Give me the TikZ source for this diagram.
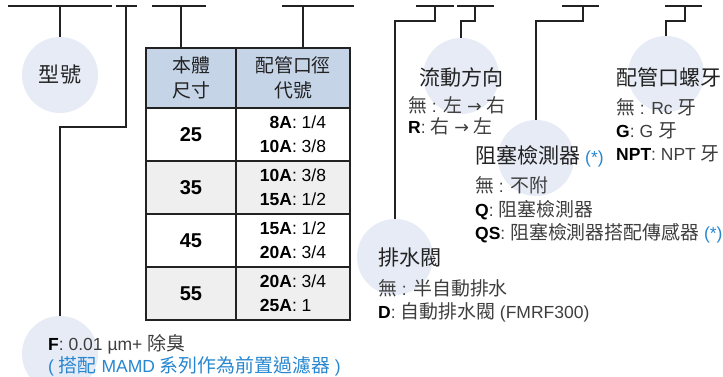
\documentclass[tikz,border=0pt]{standalone}
\usepackage{fontspec}
\setmainfont{Liberation Sans}
\newfontfamily\zh[Scale=1.08]{Noto Sans CJK TC}
\newfontfamily\symf{DejaVu Sans}
\usetikzlibrary{positioning, calc}
\definecolor{mydark}{RGB}{34,34,34}
\definecolor{mygray}{RGB}{62,62,62}
\definecolor{myblue}{RGB}{38,134,208}
\definecolor{hdrblue}{RGB}{198,212,232}
\definecolor{rowgray}{RGB}{239,239,239}
\definecolor{bubblefill}{RGB}{230,235,245}
\tikzset{
  wire/.style={line width=1.3pt, color=mydark},
  bubble/.style={circle, fill=bubblefill, minimum size=76pt, inner sep=0pt},
  title/.style={font=\fontsize{19.5}{24}\selectfont\zh, text=mydark, inner sep=0pt},
  opts/.style={text=mygray, align=left, inner sep=0pt, anchor=west},
  hdrcell/.style={rectangle, draw=mydark, fill=hdrblue, line width=1.3pt,
    minimum height=60pt, align=center, text=mydark,
    font=\fontsize{17.5}{25}\selectfont\zh},
  sizecell/.style={rectangle, draw=mydark, line width=1.3pt, minimum width=90pt,
    minimum height=53pt, text=black, font=\fontsize{20}{24}\selectfont\bfseries},
  portcell/.style={rectangle, draw=mydark, line width=1.3pt, minimum width=114pt,
    minimum height=53pt, align=left, text=black, font=\fontsize{17.5}{24}\selectfont}
}
\newcommand{\optfont}[1]{\fontsize{17.5}{#1}\selectfont}
\newcommand{\zhc}[1]{{\zh #1}}
\newcommand{\toarr}{{\symf →}}

\begin{document}
\begin{tikzpicture}[x=1pt, y=-1pt]
  \useasboundingbox (0,0) rectangle (723,377);
  % top bars
  \foreach \a/\b [count=\i] in {8/112, 116/137, 152/206, 282/354,
      416/454, 457/494, 562/599, 665/702} {
    \coordinate (bar\i w) at (\a,6);
    \coordinate (bar\i e) at (\b,6);
    \draw[wire] (bar\i w) -- (bar\i e);
  }
  \coordinate (tap2) at (126,6);
  \coordinate (tap3) at (181,6);
  \coordinate (tap4) at (303,6);
  \coordinate (tap5) at (435,6);
  \coordinate (tap6) at (475,6);
  \coordinate (tap7) at (583,6);
  \coordinate (tap8) at (685,6);

  % bubbles
  \node[bubble] (model) at (60,75) {};
  \node[bubble] (filt) at (60,354) {};
  \node[bubble] (drain) at (395,257) {};
  \node[bubble] (flow) at (461,76) {};
  \node[bubble] (sensor) at (536,158) {};
  \node[bubble] (thread) at (666,74) {};

  % table
  \node[hdrcell, minimum width=90pt] (h1) at (191,78) {本體\\尺寸};
  \node[hdrcell, minimum width=114pt] (h2) at (293,78) {配管口徑\\代號};
  \node[sizecell] (s1) at (191,134.5) {25};
  \node[portcell] (p1) at (293,134.5) {\hphantom{1}\textbf{8A}: 1/4\\\textbf{10A}: 3/8};
  \node[sizecell, fill=rowgray] (s2) at (191,187.5) {35};
  \node[portcell, fill=rowgray] (p2) at (293,187.5) {\textbf{10A}: 3/8\\\textbf{15A}: 1/2};
  \node[sizecell] (s3) at (191,240.5) {45};
  \node[portcell] (p3) at (293,240.5) {\textbf{15A}: 1/2\\\textbf{20A}: 3/4};
  \node[sizecell, fill=rowgray] (s4) at (191,293.5) {55};
  \node[portcell, fill=rowgray] (p4) at (293,293.5) {\textbf{20A}: 3/4\\\textbf{25A}: 1};

  % connectors
  \draw[wire] (bar1w -| model.north) -- (model.north);
  \draw[wire] (tap2) -- ++(0,121) -| (filt.north);
  \draw[wire] (tap3) -- (tap3 |- h1.north);
  \draw[wire] (tap4) -- (tap4 |- h2.north);
  \draw[wire] (tap5) -- ++(0,15) -| (drain.north);
  \draw[wire] (tap6) -- ++(0,15) -| (flow.north);
  \draw[wire] (tap7) -- ++(0,15) -| (sensor.north);
  \draw[wire] (tap8) -- ++(0,15) -| (thread.north);

  % titles
  \node[title] (modelt) at (model.center) {型號};
  \node[title, anchor=west] (flowt) at (419,77) {流動方向};
  \node[title, anchor=west] (threadt) at (616,77) {配管口螺牙};
  \node[title, anchor=west] (sensort) at (475,156)
    {阻塞檢測器 {\rmfamily\optfont{22}\color{myblue}(*)}};
  \node[title, anchor=west] (draint) at (378,258) {排水閥};

  % options
  \node[opts, font=\optfont{21}] (flowo) at (408,115.5)
    {\zhc{無} : \zhc{左} \toarr{} \zhc{右}\\\textcolor{black}{\textbf{R}}: \zhc{右} \toarr{} \zhc{左}};
  \node[opts, font=\optfont{23}] (threado) at (616,130)
    {\zhc{無} : Rc \zhc{牙}\\\textcolor{black}{\textbf{G}}: G \zhc{牙}\\
     \textcolor{black}{\textbf{NPT}}: NPT \zhc{牙}};
  \node[opts, font=\optfont{23.5}] (sensoro) at (475,210)
    {\zhc{無} : \zhc{不附}\\\textcolor{black}{\textbf{Q}}: \zhc{阻塞檢測器}\\
     \textcolor{black}{\textbf{QS}}: \zhc{阻塞檢測器搭配傳感器} \textcolor{myblue}{(*)}};
  \node[opts, font=\optfont{23}] (draino) at (378,300.5)
    {\zhc{無} : \zhc{半自動排水}\\\textcolor{black}{\textbf{D}}: \zhc{自動排水閥} (FMRF300)};
  \node[opts, font=\optfont{22}] (filto) at (48,355)
    {\textcolor{black}{\textbf{F}}: 0.01 µm+ \zhc{除臭}\\
     \textcolor{myblue}{( \zhc{搭配} MAMD \zhc{系列作為前置過濾器} )}};
\end{tikzpicture}
\end{document}
